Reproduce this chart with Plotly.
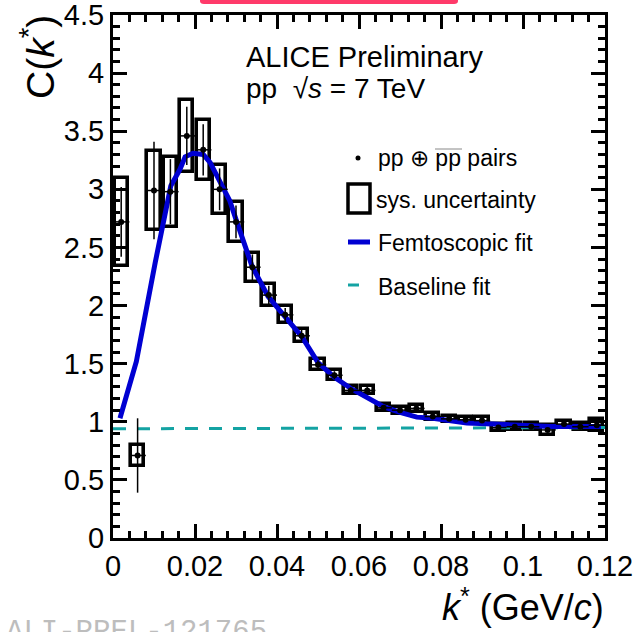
import plotly.graph_objects as go

# Correlation function C(k*) for pp (+) anti-pp pairs
k_star = [0.002, 0.006, 0.010, 0.014, 0.018, 0.022, 0.026, 0.030, 0.034, 0.038,
          0.042, 0.046, 0.050, 0.054, 0.058, 0.062, 0.066, 0.070, 0.074, 0.078,
          0.082, 0.086, 0.090, 0.094, 0.098, 0.102, 0.106, 0.110, 0.114, 0.118]
c_val = [2.72, 0.71, 2.99, 2.98, 3.46, 3.34, 3.00, 2.72, 2.33, 2.09,
         1.92, 1.74, 1.49, 1.40, 1.27, 1.27, 1.12, 1.10, 1.115, 1.045,
         1.025, 1.017, 1.01, 0.95, 0.957, 0.957, 0.93, 0.98, 0.957, 0.97]
c_stat = [0.30, 0.32, 0.42, 0.28, 0.25, 0.22, 0.18, 0.14, 0.11, 0.08,
          0.06, 0.05, 0.04, 0.035, 0.03, 0.03, 0.025, 0.025, 0.025, 0.02,
          0.02, 0.02, 0.02, 0.02, 0.02, 0.02, 0.02, 0.02, 0.02, 0.02]
c_sys = [0.38, 0.09, 0.34, 0.30, 0.31, 0.26, 0.21, 0.17, 0.125, 0.095,
         0.073, 0.056, 0.047, 0.043, 0.035, 0.035, 0.03, 0.03, 0.03, 0.028,
         0.028, 0.028, 0.028, 0.03, 0.03, 0.03, 0.04, 0.03, 0.03, 0.05]

# Femtoscopic fit curve
fit_k = [0.0017, 0.0057, 0.0103, 0.0122, 0.0141, 0.0163, 0.0176, 0.0195, 0.0220,
         0.0237, 0.0260, 0.0285, 0.0302, 0.0339, 0.0378, 0.0420, 0.0461, 0.0500,
         0.0541, 0.0583, 0.0620, 0.0660, 0.0700, 0.0741, 0.0780, 0.0820, 0.0863,
         0.0927, 0.1010, 0.1066, 0.1190]
fit_c = [1.03, 1.52, 2.37, 2.72, 3.03, 3.17, 3.28, 3.31, 3.30,
         3.23, 3.06, 2.90, 2.72, 2.34, 2.08, 1.91, 1.73, 1.51,
         1.38, 1.28, 1.21, 1.13, 1.08, 1.04, 1.03, 1.01, 0.99,
         0.98, 0.965, 0.96, 0.96]

# Baseline fit
base_k = [0.0, 0.12]
base_c = [0.94, 0.95]

x_ticks = [0, 0.02, 0.04, 0.06, 0.08, 0.1, 0.12]
y_ticks = [0, 0.5, 1, 1.5, 2, 2.5, 3, 3.5, 4, 4.5]

BOX_W = 0.0032
BIN_HALF = 0.002
BLUE = "#0000d2"
TEAL = "#14a3a3"
FONT = "Liberation Sans"

W, H = 637, 632
L, R, T, B = 113, 32, 15, 94
PW, PH = W - L - R, H - T - B


def px(x):
    return (x - L) / PW


def py(y):
    return (H - B - y) / PH


fig = go.Figure()

fig.add_trace(go.Bar(
    x=k_star, y=[2 * s for s in c_sys], base=[v - s for v, s in zip(c_val, c_sys)],
    width=BOX_W, marker=dict(color="rgba(0,0,0,0)", line=dict(color="black", width=3.6)),
    showlegend=False, hoverinfo="skip"))

fig.add_trace(go.Scatter(
    x=base_k, y=base_c, mode="lines",
    line=dict(color=TEAL, width=3, dash="13px,11px"), showlegend=False))

fig.add_trace(go.Scatter(
    x=fit_k, y=fit_c, mode="lines",
    line=dict(color=BLUE, width=5), showlegend=False))

fig.add_trace(go.Scatter(
    x=k_star, y=c_val, mode="markers",
    marker=dict(color="black", size=6),
    error_y=dict(type="data", array=c_stat, color="black", thickness=1.5, width=0),
    error_x=dict(type="constant", value=BIN_HALF, color="black", thickness=1.5, width=0),
    showlegend=False))

axis_common = dict(
    showline=True, linecolor="black", linewidth=3, mirror="allticks",
    ticks="inside", ticklen=14, tickwidth=2.5, tickcolor="black",
    showgrid=False, zeroline=False, ticklabeloverflow="allow", automargin=False,
    tickfont=dict(family=FONT, size=29, color="black"),
)

fig.update_xaxes(range=[0, 0.12], tickvals=x_ticks,
                 ticktext=[f"{t:g}" for t in x_ticks],
                 minor=dict(dtick=0.004, ticklen=7, tickwidth=2.5, ticks="inside",
                            tickcolor="black", showgrid=False),
                 **axis_common)
fig.update_yaxes(range=[0, 4.5001], tickvals=y_ticks,
                 ticktext=[f"{t:g}" for t in y_ticks],
                 minor=dict(dtick=0.1, ticklen=7, tickwidth=2.5, ticks="inside",
                            tickcolor="black", showgrid=False),
                 **axis_common)

annotations = [
    dict(x=px(244), y=py(57), text="ALICE Preliminary", xanchor="left", yanchor="middle",
         font=dict(family=FONT, size=29, color="black")),
    dict(x=px(244), y=py(89), text="pp  √<i>s</i> = 7 TeV", xanchor="left", yanchor="middle",
         font=dict(family=FONT, size=28, color="black")),
    dict(x=px(376), y=py(158), text="pp ⊕ pp pairs", xanchor="left", yanchor="middle",
         font=dict(family=FONT, size=23, color="black")),
    dict(x=px(374), y=py(200), text="sys. uncertainty", xanchor="left", yanchor="middle",
         font=dict(family=FONT, size=23, color="black")),
    dict(x=px(376), y=py(243), text="Femtoscopic fit", xanchor="left", yanchor="middle",
         font=dict(family=FONT, size=23, color="black")),
    dict(x=px(376), y=py(287), text="Baseline fit", xanchor="left", yanchor="middle",
         font=dict(family=FONT, size=23, color="black")),
    dict(x=px(38), y=py(57), text="C(<i>k</i><sup>*</sup>)", textangle=-90,
         xanchor="center", yanchor="middle",
         font=dict(family=FONT, size=39, color="black")),
    dict(x=px(606), y=py(605), text="<i>k</i><sup>*</sup> (GeV/<i>c</i>)",
         xanchor="right", yanchor="middle",
         font=dict(family=FONT, size=36, color="black")),
    dict(x=px(4), y=py(614), text="ALI-PREL-121765", xanchor="left", yanchor="top",
         font=dict(family="Liberation Mono", size=29, color="#bdbdbd")),
]
for a in annotations:
    a.update(xref="paper", yref="paper", showarrow=False)

shapes = [
    # banner at the top edge
    dict(type="path", xref="paper", yref="paper",
         path=(f"M {px(200)},{py(-6)} L {px(458)},{py(-6)} L {px(458)},{py(1)} "
               f"Q {px(458)},{py(4)} {px(454)},{py(4)} L {px(204)},{py(4)} "
               f"Q {px(200)},{py(4)} {px(200)},{py(1)} Z"),
         fillcolor="#ff3a6a", line=dict(width=0)),
    # legend: data point
    dict(type="circle", xref="paper", yref="paper",
         x0=px(355.5), x1=px(360.5), y0=py(155.5), y1=py(160.5),
         fillcolor="black", line=dict(color="black", width=0)),
    # legend: overline for antiprotons
    dict(type="line", xref="paper", yref="paper",
         x0=px(435), x1=px(462), y0=py(149), y1=py(149),
         line=dict(color="#888888", width=1)),
    # legend: systematic box
    dict(type="rect", xref="paper", yref="paper",
         x0=px(348), x1=px(370), y0=py(184), y1=py(213),
         line=dict(color="black", width=3.5)),
    # legend: fit line
    dict(type="line", xref="paper", yref="paper",
         x0=px(348), x1=px(370), y0=py(242), y1=py(242),
         line=dict(color=BLUE, width=5)),
    # legend: baseline
    dict(type="line", xref="paper", yref="paper",
         x0=px(348), x1=px(359), y0=py(285), y1=py(285),
         line=dict(color=TEAL, width=3)),
]

fig.update_layout(
    width=W, height=H,
    margin=dict(l=L, r=R, t=T, b=B, autoexpand=False),
    paper_bgcolor="white", plot_bgcolor="white",
    barmode="overlay", bargap=0,
    showlegend=False,
    annotations=annotations, shapes=shapes,
)

fig.write_html("out.html")
